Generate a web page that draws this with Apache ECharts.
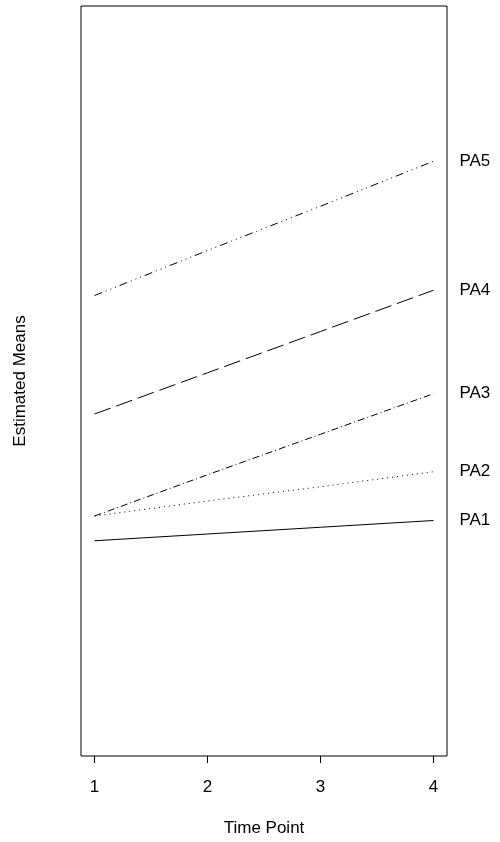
<!DOCTYPE html>
<html>
<head>
<meta charset="utf-8">
<script src="https://cdn.jsdelivr.net/npm/echarts@6/dist/echarts.min.js"></script>
<style>
html,body{margin:0;padding:0;background:#fff;}
#chart{width:500px;height:842px;}
</style>
</head>
<body>
<div id="chart"></div>
<script>
// Data
const timePoints = [1, 2, 3, 4];
const seriesNames = ['PA1', 'PA2', 'PA3', 'PA4', 'PA5'];
const pa1 = [28.7, 29.6, 30.5, 31.4];
const pa2 = [32.0, 34.0, 35.9, 37.9];
const pa3 = [32.0, 37.5, 42.9, 48.3];
const pa4 = [45.6, 51.1, 56.6, 62.1];
const pa5 = [61.4, 67.4, 73.3, 79.3];
const xTickLabels = [1, 2, 3, 4];

const values = [pa1, pa2, pa3, pa4, pa5];
const dashes = ['solid', [1, 4], [7, 3, 1, 3], [17, 6], [8, 4, 1, 4, 1, 4, 1, 4]];
const FONT = 'Liberation Sans, Arial, sans-serif';

const chart = echarts.init(document.getElementById('chart'), null, {renderer: 'canvas'});

const series = seriesNames.map((name, i) => ({
  name: name,
  type: 'line',
  data: timePoints.map((t, j) => [t, values[i][j]]),
  symbol: 'none',
  silent: true,
  animation: false,
  lineStyle: {color: '#000', width: 1, type: dashes[i]},
  endLabel: {
    show: true,
    formatter: name,
    distance: 26,
    color: '#000',
    fontFamily: FONT,
    fontSize: 17
  }
}));

chart.setOption({
  animation: false,
  backgroundColor: '#fff',
  grid: {
    left: 81, right: 53, top: 6, bottom: 84,
    show: true, borderColor: '#000', borderWidth: 1, backgroundColor: 'transparent'
  },
  xAxis: {
    type: 'value',
    min: 0.88, max: 4.12,
    name: 'Time Point',
    nameLocation: 'middle',
    nameGap: 64,
    nameTextStyle: {color: '#000', fontFamily: FONT, fontSize: 17},
    axisLine: {show: false},
    splitLine: {show: false},
    axisTick: {show: true, inside: false, length: 7, lineStyle: {color: '#000', width: 1}, customValues: xTickLabels},
    axisLabel: {show: true, color: '#000', fontFamily: FONT, fontSize: 17, margin: 23, customValues: xTickLabels, formatter: v => String(v)}
  },
  yAxis: {
    type: 'value',
    min: 0, max: 100,
    name: 'Estimated Means',
    nameLocation: 'middle',
    nameGap: 52,
    nameRotate: 90,
    nameTextStyle: {color: '#000', fontFamily: FONT, fontSize: 17},
    axisLine: {show: false},
    axisTick: {show: false},
    axisLabel: {show: false},
    splitLine: {show: false}
  },
  series: series
});
</script>
</body>
</html>
